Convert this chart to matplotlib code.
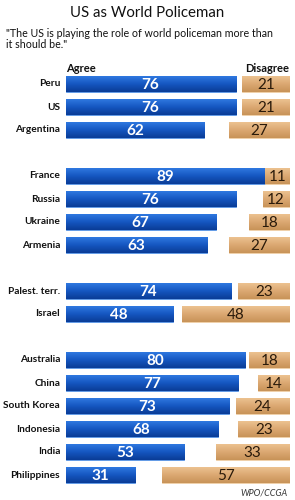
import matplotlib
matplotlib.use("Agg")
import matplotlib.pyplot as plt
import numpy as np
from matplotlib.colors import LinearSegmentedColormap

countries = ["Peru", "US", "Argentina", None, "France", "Russia", "Ukraine", "Armenia", None,
             "Palest. terr.", "Israel", None, "Australia", "China", "South Korea", "Indonesia",
             "India", "Philippines"]
agree = [76, 76, 62, None, 89, 76, 67, 63, None, 74, 48, None, 80, 77, 73, 68, 53, 31]
disagree = [21, 21, 27, None, 11, 12, 18, 27, None, 23, 48, None, 18, 14, 24, 23, 33, 57]

title = "US as World Policeman"
subtitle = "\"The US is playing the role of world policeman more than\nit should be.\""
source = "WPO/CCGA"

FONT = ["Lato", "DejaVu Sans"]
W, H = 295, 500
fig = plt.figure(figsize=(W / 100, H / 100), dpi=100)
fig.patch.set_facecolor("white")

# axes geometry in pixels
x0, x1 = 65.5, 289.5
row0_y, step = 84.0, 23.0
n = len(countries)
top_px = row0_y - step / 2
bot_px = row0_y + (n - 0.5) * step
ax = fig.add_axes([x0 / W, 1 - bot_px / H, (x1 - x0) / W, (bot_px - top_px) / H])
ax.set_xlim(0, 100)
ax.set_ylim(n - 0.5, -0.5)
ax.axis("off")

blue_cmap = LinearSegmentedColormap.from_list("b", ["#2f78e0", "#1556c0", "#0a3c96"])
tan_cmap = LinearSegmentedColormap.from_list("t", ["#ecc290", "#dba872", "#c89358"])
grad = np.linspace(0, 1, 64).reshape(-1, 1)

bh = 0.68
for i, (c, a, d) in enumerate(zip(countries, agree, disagree)):
    if c is None:
        continue
    # agree bar
    bars = ax.barh(i, a, left=0, height=bh, color="#1556c0", edgecolor="#5e9ae8", linewidth=0.6)
    p = bars[0]
    im = ax.imshow(grad, cmap=blue_cmap, aspect="auto",
                   extent=[0, a, i + bh / 2, i - bh / 2], zorder=p.get_zorder() + 0.1)
    im.set_clip_path(p)
    ax.text(a / 2, i + 0.03, str(a), color="white", fontsize=11, fontweight="bold",
            ha="center", va="center", family=FONT, zorder=5)
    # disagree bar
    bars2 = ax.barh(i, d, left=100 - d, height=bh, color="#dba872", edgecolor="#f0d0a8", linewidth=0.6)
    p2 = bars2[0]
    im2 = ax.imshow(grad, cmap=tan_cmap, aspect="auto",
                    extent=[100 - d, 100, i + bh / 2, i - bh / 2], zorder=p2.get_zorder() + 0.1)
    im2.set_clip_path(p2)
    ax.text(100 - d / 2, i + 0.03, str(d), color="#2a1a0a", fontsize=11,
            ha="center", va="center", family=FONT, zorder=5)
    # country label
    fig.text(60 / W, 1 - (row0_y + i * step) / H, c, ha="right", va="center",
             fontsize=7.3, fontweight="bold", color="#111111", family=FONT)

fig.text(0.5, 1 - 13 / H, title, ha="center", va="center", fontsize=10.8,
         color="#111111", family=FONT)
fig.text(6 / W, 1 - 39 / H, subtitle, ha="left", va="center", fontsize=7.7,
         color="#111111", linespacing=0.95, family=FONT)
fig.text(66 / W, 1 - 68 / H, "Agree", ha="left", va="center", fontsize=8,
         fontweight="bold", color="#111111", family=FONT)
fig.text(289 / W, 1 - 68 / H, "Disagree", ha="right", va="center", fontsize=8,
         fontweight="bold", color="#111111", family=FONT)
fig.text(288 / W, 1 - 493 / H, source, ha="right", va="center", fontsize=6.5,
         style="italic", color="#333333", family=FONT)

fig.savefig("out.png", dpi=100, facecolor="white")
